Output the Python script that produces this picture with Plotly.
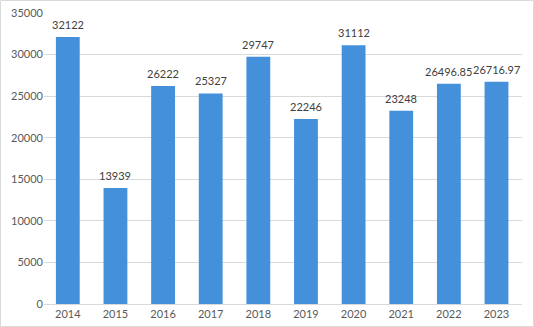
import plotly.graph_objects as go

years = ["2014", "2015", "2016", "2017", "2018", "2019", "2020", "2021", "2022", "2023"]
values = [32122, 13939, 26222, 25327, 29747, 22246, 31112, 23248, 26496.85, 26716.97]
labels = ["32122", "13939", "26222", "25327", "29747", "22246", "31112", "23248", "26496.85", "26716.97"]
y_ticks = [0, 5000, 10000, 15000, 20000, 25000, 30000, 35000]
y_tick_text = ["0", "5000", "10000", "15000", "20000", "25000", "30000", "35000"]

W, H = 534, 327
L, R, T, B = 44, 12, 13, 23

fig = go.Figure(go.Bar(
    x=years, y=values,
    marker=dict(color="#4490DB", line=dict(width=0)),
))

# category axis: annotation x given as category index
for i, (v, t) in enumerate(zip(values, labels)):
    fig.add_annotation(x=i, y=v, text=t, showarrow=False, yanchor="bottom",
                       yshift=4, font=dict(family="Lato, Carlito, sans-serif", size=11,
                                           color="#404040"))

pw = W - L - R
ph = H - T - B
fig.update_layout(
    width=W, height=H,
    margin=dict(l=L, r=R, t=T, b=B, autoexpand=False),
    paper_bgcolor="white", plot_bgcolor="white",
    bargap=0.5, showlegend=False,
    font=dict(family="Lato, Carlito, sans-serif", size=11, color="#595959"),
    xaxis=dict(type="category", showgrid=False, showline=True, linecolor="#d9d9d9", ticks="",
               automargin=False, tickfont=dict(size=11, color="#595959")),
    yaxis=dict(range=[0, 35000], tickvals=y_ticks, ticktext=y_tick_text, showgrid=True,
               gridcolor="#d9d9d9", zeroline=False, showline=False, ticks="", ticklen=0,
               automargin=False, tickfont=dict(size=11, color="#595959")),
    shapes=[dict(type="rect", xref="paper", yref="paper",
                 x0=(0.5 - L) / pw, x1=(W - 0.5 - L) / pw,
                 y0=-(H - 0.5 - T - ph) / ph, y1=(ph + T - 0.5) / ph,
                 line=dict(color="#d9d9d9", width=1), layer="below")],
)
fig.write_html("out.html")
